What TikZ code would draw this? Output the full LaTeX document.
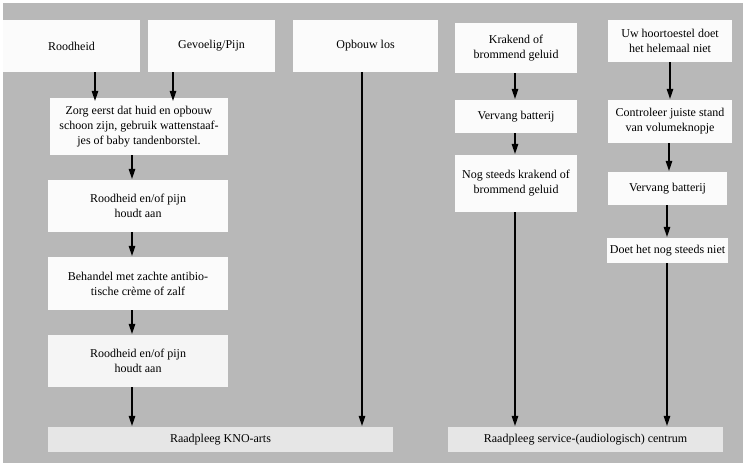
\documentclass[tikz,border=0pt]{standalone}
\usepackage{fontspec}
\setmainfont{Liberation Serif}
\usepackage{tikz}
\usetikzlibrary{arrows.meta,calc}

\definecolor{halftone}{RGB}{184,184,184}
\definecolor{paper}{RGB}{251,251,251}
\definecolor{pale}{RGB}{230,230,230}

\begin{document}
\begin{tikzpicture}[x=1pt,y=-1pt,
        box/.style={fill=paper, inner sep=0pt, align=center, font=\fontsize{12}{15}\selectfont},
        flow/.style={line width=2.6pt, -{Triangle[length=11pt,width=6pt]}}]
            \useasboundingbox (0,0) rectangle (743,463);
            \fill[halftone] (3,3) rectangle (743,463); %grijze achtergrond

            % bovenste rij
            \node[box, minimum width=137, minimum height=52] (r1) at (71.5,46) {Roodheid};
            \node[box, minimum width=127, minimum height=52] (g1) at (211.5,46) {Gevoelig/Pijn};
            \node[box, minimum width=145, minimum height=52] (o1) at (365.5,46) {Opbouw los};
            \node[box, minimum width=122, minimum height=50] (k1) at (516,48) {Krakend of\\brommend geluid};
            \node[box, minimum width=124, minimum height=42] (u1) at (670,41) {Uw hoortoestel doet\\het helemaal niet};

            % linker kolom
            \node[box, minimum width=178, minimum height=57] (zorg) at (139,126.5) {Zorg eerst dat huid en opbouw\\schoon zijn, gebruik wattenstaaf-\\jes of baby tandenborstel.};
            \node[box, minimum width=180, minimum height=52] (r2) at (138,206) {Roodheid en/of pijn\\houdt aan};
            \node[box, minimum width=180, minimum height=53] (beh) at (138,283.5) {Behandel met zachte antibio-\\tische crème of zalf};
            \node[box, fill=paper!95!gray, minimum width=180, minimum height=52] (r3) at (138,361) {Roodheid en/of pijn\\houdt aan};

            % rechter kolommen
            \node[box, minimum width=122, minimum height=33] (v1) at (516,116.5) {Vervang batterij};
            \node[box, minimum width=122, minimum height=57] (nog) at (516,183.5) {Nog steeds krakend of\\brommend geluid};
            \node[box, minimum width=124, minimum height=43] (ctrl) at (670,121.5) {Controleer juiste stand\\van volumeknopje};
            \node[box, minimum width=119, minimum height=33] (v2) at (667.5,188.5) {Vervang batterij};
            \node[box, minimum width=121, minimum height=25] (doet) at (667.5,250.5) {Doet het nog steeds niet};

            % onderste rij
            \node[box, fill=pale, minimum width=345, minimum height=25] (kno) at (220.5,439.5) {Raadpleeg KNO-arts};
            \node[box, fill=pale, minimum width=275, minimum height=25] (srv) at (585.5,439.5) {Raadpleeg service-(audiologisch) centrum};

            % pijlen
            \draw[flow] (r1.south -| 95,0) -- ($(zorg.north -| 95,0)+(0,4)$);
            \draw[flow] (g1.south -| 173,0) -- ($(zorg.north -| 173,0)+(0,4)$);
            \foreach \a/\b in {zorg/r2,r2/beh,beh/r3,r3/kno}{ %linker kolom
                \draw[flow] (\a.south -| 132,0) -- (\b.north -| 132,0);
            }
            \draw[flow] (o1.south -| 362,0) -- (kno.north -| 362,0);
            \foreach \a/\b in {k1/v1,v1/nog,nog/srv}{
                \draw[flow] (\a.south -| 515,0) -- (\b.north -| 515,0);
            }
            \draw[flow] (u1.south -| 670,0) -- (ctrl.north -| 670,0);
            \draw[flow] (ctrl.south -| 669,0) -- (v2.north -| 669,0);
            \foreach \a/\b in {v2/doet,doet/srv}{
                \draw[flow] (\a.south -| 667,0) -- (\b.north -| 667,0);
            }
        \end{tikzpicture}
\end{document}
